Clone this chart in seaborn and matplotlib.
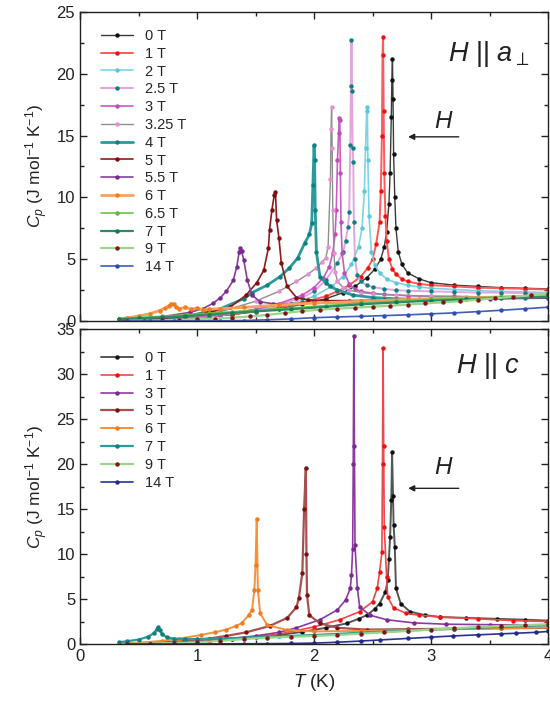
import matplotlib
matplotlib.use("Agg")
import matplotlib.pyplot as plt
from matplotlib.ticker import MultipleLocator
import seaborn as sns

# ---------------- H || a_perp ----------------
t_a0 = [0.35, 0.5, 0.7, 0.9, 1.1, 1.3, 1.5, 1.7, 1.9, 2.1, 2.25, 2.35, 2.45, 2.52, 2.57, 2.6, 2.62, 2.64, 2.65, 2.66, 2.665, 2.67, 2.675, 2.68, 2.69, 2.70, 2.72, 2.75, 2.8, 2.9, 3.0, 3.2, 3.4, 3.6, 3.8, 4.0]
cp_a0 = [0.03, 0.06, 0.12, 0.22, 0.35, 0.52, 0.75, 1.0, 1.35, 1.8, 2.3, 2.8, 3.5, 4.2, 5.0, 6.0, 7.2, 9.5, 12.0, 16.5, 19.5, 21.2, 18.0, 13.5, 10.0, 7.5, 5.6, 4.6, 3.9, 3.4, 3.1, 2.9, 2.8, 2.7, 2.65, 2.6]

t_a1 = [0.35, 0.5, 0.7, 0.9, 1.1, 1.3, 1.5, 1.7, 1.9, 2.1, 2.2, 2.3, 2.4, 2.46, 2.5, 2.53, 2.56, 2.57, 2.58, 2.585, 2.59, 2.595, 2.6, 2.61, 2.62, 2.64, 2.67, 2.7, 2.75, 2.8, 2.9, 3.0, 3.2, 3.4, 3.6, 3.8, 4.0]
cp_a1 = [0.03, 0.06, 0.12, 0.22, 0.36, 0.55, 0.8, 1.1, 1.5, 2.0, 2.4, 2.9, 3.6, 4.3, 5.0, 6.2, 8.0, 10.5, 15.0, 21.5, 23.0, 17.0, 12.0, 8.5, 6.5, 5.0, 4.2, 3.8, 3.4, 3.2, 3.0, 2.9, 2.8, 2.7, 2.65, 2.6, 2.55]

t_a2 = [0.35, 0.6, 0.9, 1.2, 1.5, 1.8, 2.0, 2.15, 2.25, 2.32, 2.38, 2.41, 2.43, 2.44, 2.45, 2.455, 2.46, 2.47, 2.49, 2.52, 2.56, 2.62, 2.7, 2.8, 2.9, 3.0, 3.2, 3.4, 3.6, 3.8, 4.0]
cp_a2 = [0.03, 0.1, 0.25, 0.5, 0.85, 1.4, 2.0, 2.8, 3.6, 4.6, 6.0, 7.5, 10.5, 14.0, 17.0, 17.3, 13.0, 8.5, 5.6, 4.5, 3.9, 3.4, 3.1, 2.9, 2.75, 2.65, 2.55, 2.45, 2.4, 2.35, 2.3]

t_a25 = [0.35, 0.6, 0.9, 1.2, 1.5, 1.7, 1.9, 2.0, 2.1, 2.2, 2.25, 2.27, 2.29, 2.30, 2.31, 2.315, 2.32, 2.325, 2.33, 2.335, 2.34, 2.35, 2.37, 2.4, 2.45, 2.5, 2.6, 2.7, 2.8, 3.0, 3.2, 3.4, 3.6, 3.8, 4.0]
cp_a25 = [0.03, 0.1, 0.25, 0.5, 0.9, 1.3, 1.9, 2.4, 3.3, 4.7, 5.6, 6.5, 7.6, 8.8, 14.2, 19.0, 22.7, 18.6, 14.0, 12.9, 8.0, 5.0, 3.7, 3.2, 2.9, 2.75, 2.6, 2.5, 2.45, 2.4, 2.35, 2.3, 2.3, 2.25, 2.2]

t_a3 = [0.35, 0.6, 0.9, 1.2, 1.5, 1.7, 1.9, 2.0, 2.08, 2.13, 2.16, 2.18, 2.19, 2.2, 2.21, 2.215, 2.22, 2.225, 2.23, 2.24, 2.26, 2.3, 2.35, 2.4, 2.5, 2.6, 2.8, 3.0, 3.2, 3.4, 3.6, 3.8, 4.0]
cp_a3 = [0.03, 0.1, 0.26, 0.52, 0.95, 1.4, 2.1, 2.7, 3.5, 4.4, 5.5, 7.0, 9.0, 13.0, 15.2, 16.4, 16.3, 12.0, 8.0, 5.5, 3.9, 3.0, 2.6, 2.4, 2.25, 2.15, 2.05, 2.0, 2.0, 1.95, 1.95, 1.95, 1.95]

t_a325 = [0.35, 0.6, 0.9, 1.2, 1.5, 1.7, 1.85, 1.95, 2.02, 2.07, 2.1, 2.12, 2.14, 2.145, 2.15, 2.155, 2.16, 2.17, 2.18, 2.2, 2.25, 2.3, 2.4, 2.5, 2.7, 3.0, 3.3, 3.6, 4.0]
cp_a325 = [0.03, 0.12, 0.32, 0.75, 1.6, 2.4, 3.2, 3.8, 4.3, 4.8, 5.1, 6.0, 11.5, 15.5, 17.3, 14.0, 9.0, 5.5, 4.0, 3.2, 2.7, 2.5, 2.3, 2.2, 2.1, 2.0, 1.95, 1.95, 1.95]

t_a4 = [0.35, 0.6, 0.9, 1.2, 1.4, 1.47, 1.6, 1.71, 1.79, 1.86, 1.92, 1.96, 1.98, 1.99, 2.0, 2.005, 2.01, 2.02, 2.05, 2.1, 2.14, 2.2, 2.33, 2.5, 2.7, 2.9, 3.2, 3.5, 3.8, 4.0]
cp_a4 = [0.03, 0.12, 0.35, 1.0, 1.8, 2.3, 2.9, 3.6, 4.3, 5.1, 6.3, 7.0, 7.9, 11.0, 14.2, 13.0, 9.0, 5.6, 3.6, 3.1, 2.8, 2.5, 2.1, 1.9, 1.8, 1.75, 1.8, 1.85, 1.9, 1.9]

t_a5 = [0.35, 0.6, 0.9, 1.1, 1.28, 1.42, 1.51, 1.57, 1.61, 1.62, 1.64, 1.66, 1.67, 1.68, 1.7, 1.72, 1.77, 1.85, 1.95, 2.1, 2.3, 2.6, 3.0, 3.4, 3.8, 4.0]
cp_a5 = [0.03, 0.12, 0.4, 0.7, 1.1, 2.1, 3.1, 4.1, 5.9, 7.4, 9.0, 10.2, 10.4, 8.2, 6.7, 4.7, 2.8, 1.9, 1.7, 1.65, 1.65, 1.7, 1.8, 1.9, 2.0, 2.0]

t_a55 = [0.35, 0.5, 0.7, 0.94, 1.05, 1.14, 1.2, 1.25, 1.31, 1.34, 1.36, 1.37, 1.38, 1.4, 1.43, 1.47, 1.54, 1.65, 1.8, 2.0, 2.3, 2.7, 3.1, 3.5, 4.0]
cp_a55 = [0.05, 0.15, 0.35, 0.7, 1.0, 1.45, 1.9, 2.4, 3.3, 4.4, 5.6, 5.9, 5.7, 4.9, 3.3, 2.1, 1.55, 1.4, 1.4, 1.45, 1.5, 1.6, 1.7, 1.8, 1.85]

t_a6 = [0.33, 0.4, 0.5, 0.6, 0.68, 0.73, 0.76, 0.78, 0.8, 0.82, 0.85, 0.9, 0.95, 1.0, 1.05, 1.1, 1.2, 1.4, 1.7, 2.0, 2.4, 2.8, 3.2, 3.6, 4.0]
cp_a6 = [0.15, 0.25, 0.4, 0.6, 0.85, 1.05, 1.25, 1.4, 1.35, 1.15, 1.0, 1.1, 0.95, 1.05, 0.9, 0.95, 1.0, 1.1, 1.3, 1.45, 1.6, 1.75, 1.85, 1.95, 2.0]

t_a65 = [0.33, 0.5, 0.7, 0.9, 1.1, 1.3, 1.5, 1.8, 2.1, 2.4, 2.7, 3.0, 3.3, 3.6, 4.0]
cp_a65 = [0.2, 0.28, 0.38, 0.5, 0.62, 0.75, 0.88, 1.05, 1.25, 1.45, 1.6, 1.75, 1.85, 1.95, 2.05]

t_a7 = [0.33, 0.5, 0.7, 0.9, 1.1, 1.3, 1.5, 1.8, 2.1, 2.4, 2.7, 3.0, 3.3, 3.6, 4.0]
cp_a7 = [0.15, 0.22, 0.3, 0.4, 0.52, 0.65, 0.78, 0.95, 1.15, 1.35, 1.5, 1.65, 1.75, 1.85, 1.95]

t_a9 = [0.4, 0.55, 0.7, 0.85, 1.0, 1.15, 1.3, 1.45, 1.6, 1.75, 1.9, 2.05, 2.2, 2.35, 2.5, 2.65, 2.8, 2.95, 3.1, 3.25, 3.4, 3.55, 3.7, 3.85, 4.0]
cp_a9 = [0.02, 0.04, 0.06, 0.09, 0.15, 0.2, 0.27, 0.37, 0.5, 0.65, 0.8, 0.92, 1.0, 1.08, 1.16, 1.24, 1.33, 1.42, 1.51, 1.6, 1.72, 1.84, 1.96, 2.08, 2.2]

t_a14 = [0.4, 0.6, 0.8, 1.0, 1.2, 1.4, 1.6, 1.8, 2.0, 2.2, 2.4, 2.6, 2.8, 3.0, 3.2, 3.4, 3.6, 3.8, 4.0]
cp_a14 = [0.0, 0.0, 0.01, 0.01, 0.02, 0.04, 0.1, 0.17, 0.27, 0.33, 0.38, 0.44, 0.5, 0.58, 0.66, 0.76, 0.87, 0.99, 1.12]

# ---------------- H || c ----------------
t_c0 = [0.35, 0.5, 0.7, 0.9, 1.1, 1.3, 1.5, 1.7, 1.9, 2.1, 2.28, 2.38, 2.45, 2.52, 2.56, 2.61, 2.63, 2.64, 2.65, 2.66, 2.667, 2.675, 2.68, 2.69, 2.70, 2.74, 2.82, 2.95, 3.08, 3.3, 3.56, 3.8, 4.0]
cp_c0 = [0.03, 0.06, 0.12, 0.22, 0.35, 0.52, 0.75, 1.0, 1.35, 1.8, 2.3, 2.8, 3.2, 3.9, 4.5, 5.8, 7.1, 9.5, 11.9, 16.0, 21.3, 16.5, 13.2, 10.8, 6.2, 4.5, 3.6, 3.2, 3.0, 2.9, 2.8, 2.7, 2.6]

t_c1 = [0.35, 0.5, 0.7, 0.9, 1.1, 1.3, 1.5, 1.7, 2.0, 2.22, 2.39, 2.5, 2.54, 2.56, 2.58, 2.585, 2.59, 2.595, 2.6, 2.62, 2.63, 2.68, 2.79, 2.9, 3.08, 3.4, 3.7, 4.0]
cp_c1 = [0.03, 0.06, 0.12, 0.22, 0.36, 0.55, 0.8, 1.1, 1.9, 2.7, 3.6, 4.7, 6.2, 8.0, 10.2, 20.0, 32.9, 22.0, 13.0, 7.4, 5.2, 4.0, 3.4, 3.2, 3.0, 2.8, 2.6, 2.5]

t_c3 = [0.35, 0.6, 0.9, 1.2, 1.5, 1.7, 1.85, 2.05, 2.2, 2.27, 2.31, 2.32, 2.33, 2.335, 2.34, 2.345, 2.35, 2.37, 2.39, 2.48, 2.62, 2.85, 3.13, 3.5, 4.0]
cp_c3 = [0.03, 0.1, 0.25, 0.5, 0.9, 1.3, 1.8, 2.7, 3.8, 4.9, 6.2, 7.7, 10.6, 20.0, 34.2, 22.0, 11.0, 6.2, 4.1, 3.2, 2.7, 2.35, 2.2, 2.15, 2.1]

t_c5 = [0.35, 0.6, 0.9, 1.1, 1.25, 1.42, 1.62, 1.77, 1.85, 1.87, 1.9, 1.915, 1.93, 1.935, 1.94, 1.96, 2.05, 2.2, 2.45, 2.8, 3.2, 3.6, 4.0]
cp_c5 = [0.03, 0.12, 0.35, 0.6, 0.9, 1.3, 2.0, 2.9, 4.1, 5.1, 7.9, 15.0, 19.6, 10.0, 5.4, 3.2, 2.3, 1.8, 1.6, 1.65, 1.7, 1.75, 1.8]

t_c6 = [0.33, 0.5, 0.7, 0.85, 1.03, 1.15, 1.25, 1.33, 1.38, 1.44, 1.47, 1.49, 1.50, 1.51, 1.52, 1.54, 1.6, 1.77, 2.0, 2.4, 2.8, 3.2, 3.6, 4.0]
cp_c6 = [0.05, 0.15, 0.35, 0.6, 1.0, 1.3, 1.6, 2.0, 2.3, 3.2, 3.8, 6.0, 8.8, 13.9, 6.0, 3.4, 2.1, 1.55, 1.4, 1.45, 1.55, 1.65, 1.75, 1.85]

t_c7 = [0.33, 0.4, 0.5, 0.58, 0.63, 0.66, 0.67, 0.68, 0.7, 0.74, 0.8, 0.9, 1.0, 1.2, 1.4, 1.7, 2.0, 2.4, 2.8, 3.2, 3.6, 4.0]
cp_c7 = [0.2, 0.3, 0.5, 0.8, 1.2, 1.7, 1.9, 1.6, 1.1, 0.75, 0.6, 0.55, 0.55, 0.6, 0.7, 0.85, 1.0, 1.25, 1.5, 1.7, 1.9, 2.1]

t_c9 = [0.4, 0.6, 0.8, 1.0, 1.2, 1.4, 1.6, 1.8, 2.0, 2.2, 2.4, 2.6, 2.8, 3.0, 3.2, 3.4, 3.6, 3.8, 4.0]
cp_c9 = [0.02, 0.05, 0.1, 0.2, 0.35, 0.55, 0.7, 0.8, 0.9, 1.0, 1.15, 1.3, 1.45, 1.6, 1.75, 1.9, 2.0, 2.1, 2.2]

t_c14 = [0.4, 0.6, 0.8, 1.0, 1.2, 1.4, 1.6, 1.8, 2.0, 2.2, 2.4, 2.56, 2.8, 3.0, 3.19, 3.4, 3.6, 3.73, 3.9, 4.0]
cp_c14 = [0.0, 0.0, 0.0, 0.01, 0.02, 0.03, 0.04, 0.06, 0.1, 0.2, 0.33, 0.45, 0.62, 0.76, 0.9, 1.02, 1.13, 1.2, 1.3, 1.4]

labels_a = ["0 T", "1 T", "2 T", "2.5 T", "3 T", "3.25 T", "4 T", "5 T", "5.5 T", "6 T", "6.5 T", "7 T", "9 T", "14 T"]
labels_c = ["0 T", "1 T", "3 T", "5 T", "6 T", "7 T", "9 T", "14 T"]

series_a = [(t_a0, cp_a0), (t_a1, cp_a1), (t_a2, cp_a2), (t_a25, cp_a25), (t_a3, cp_a3),
            (t_a325, cp_a325), (t_a4, cp_a4), (t_a5, cp_a5), (t_a55, cp_a55), (t_a6, cp_a6),
            (t_a65, cp_a65), (t_a7, cp_a7), (t_a9, cp_a9), (t_a14, cp_a14)]
series_c = [(t_c0, cp_c0), (t_c1, cp_c1), (t_c3, cp_c3), (t_c5, cp_c5), (t_c6, cp_c6),
            (t_c7, cp_c7), (t_c9, cp_c9), (t_c14, cp_c14)]

# line colour, marker colour, line width
style_a = [("#3a3a3a", "#111111", 1.0), ("#ff5a5a", "#ee1111", 1.4), ("#7fd3e3", "#5cc8dc", 1.2),
           ("#e2a6dc", "#0d7f82", 1.4), ("#c95ec0", "#c04cb8", 1.2), ("#8f8f8f", "#e58fd6", 1.0),
           ("#2a9a9a", "#0f7f80", 2.0), ("#8e1b1b", "#7d1010", 1.2), ("#8a3f9c", "#7a2a8e", 1.2),
           ("#f7a060", "#f07c20", 2.0), ("#6ac44a", "#5bbd3a", 1.2), ("#2e8a66", "#167a55", 1.6),
           ("#99d68a", "#801515", 1.6), ("#3e5ebc", "#2f4fb0", 1.2)]
style_c = [("#555555", "#111111", 1.4), ("#f04848", "#ee1111", 1.2), ("#8d3aa0", "#7a2a8e", 1.2),
           ("#a85050", "#7d1010", 1.6), ("#f7913a", "#f07c20", 1.4), ("#2a9a9a", "#0f7f80", 1.6),
           ("#99d68a", "#801515", 1.6), ("#2a3290", "#1f2a8c", 1.2)]

sns.set_theme(style="ticks")
plt.rcParams["font.family"] = ["Liberation Sans", "DejaVu Sans"]
plt.rcParams["mathtext.fontset"] = "custom"
plt.rcParams["mathtext.rm"] = "Liberation Sans"
plt.rcParams["mathtext.it"] = "Liberation Sans:italic"
plt.rcParams["mathtext.bf"] = "Liberation Sans:bold"
plt.rcParams["axes.edgecolor"] = "#222222"
plt.rcParams["axes.linewidth"] = 1.0

fig = plt.figure(figsize=(5.5, 7.04), dpi=100)
ax1 = fig.add_axes([0.1455, 0.544, 0.851, 0.439])
ax2 = fig.add_axes([0.1455, 0.0852, 0.851, 0.4474])


def draw(ax, series, labels, styles):
    for (t, cp), lab, (lc, mc, lw) in zip(series, labels, styles):
        sns.lineplot(x=t, y=cp, ax=ax, color=lc, linewidth=lw, marker="o",
                     markersize=3.2, markerfacecolor=mc, markeredgecolor=mc,
                     markeredgewidth=0, label=lab, estimator=None, sort=False)


draw(ax1, series_a, labels_a, style_a)
draw(ax2, series_c, labels_c, style_c)

for ax, ymax in ((ax1, 25), (ax2, 35)):
    ax.set_xlim(0, 4)
    ax.set_ylim(0, ymax)
    ax.xaxis.set_major_locator(MultipleLocator(1))
    ax.xaxis.set_minor_locator(MultipleLocator(0.5))
    ax.yaxis.set_major_locator(MultipleLocator(5))
    ax.yaxis.set_minor_locator(MultipleLocator(2.5))
    ax.tick_params(which="both", direction="in", top=True, right=True,
                   color="#222222", width=1.0, labelsize=12, labelcolor="#222222")
    ax.tick_params(which="major", length=5)
    ax.tick_params(which="minor", length=3)
    ax.set_ylabel(r"$C_p$ (J mol$^{-1}$ K$^{-1}$)", fontsize=12.5, labelpad=5, color="#222222")
    ax.legend(loc="upper left", bbox_to_anchor=(0.045, 0.945 if ax is ax1 else 0.93),
              frameon=False, fontsize=10.5, handlelength=2.2, handletextpad=0.8,
              labelspacing=0.26, borderpad=0, borderaxespad=0, markerscale=1.0)

ax1.tick_params(labelbottom=False)
ax1.set_xlabel("")
ax2.set_xlabel(r"$T$ (K)", fontsize=13.5, labelpad=6, color="#222222")

# field direction labels and arrows
ax1.text(3.49, 21.6, r"$H$ || $a_{\perp}$", fontsize=19.5, ha="center", va="center", color="#222222")
ax2.text(3.49, 30.9, r"$H$ || $c$", fontsize=19.5, ha="center", va="center", color="#222222")

ax1.annotate("", xy=(2.78, 14.9), xytext=(3.26, 14.9),
             arrowprops=dict(arrowstyle="-|>", color="#222222", lw=1.0, mutation_scale=9))
ax1.text(3.11, 16.1, r"$H$", fontsize=17.5, ha="center", va="center", color="#222222")
ax2.annotate("", xy=(2.78, 17.3), xytext=(3.26, 17.3),
             arrowprops=dict(arrowstyle="-|>", color="#222222", lw=1.0, mutation_scale=9))
ax2.text(3.11, 19.6, r"$H$", fontsize=17.5, ha="center", va="center", color="#222222")

fig.savefig("out.png", dpi=100)
